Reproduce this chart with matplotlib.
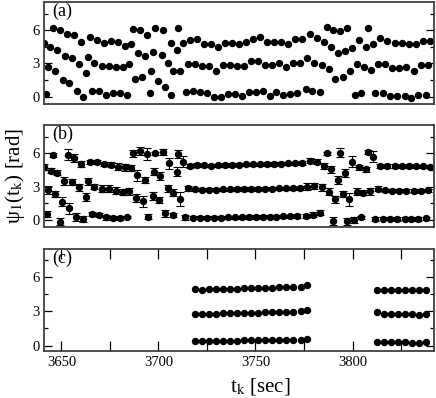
import numpy as np
import matplotlib
matplotlib.use("Agg")
import matplotlib.pyplot as plt
from matplotlib.ticker import MultipleLocator

plt.rcParams['font.family'] = ['Liberation Serif', 'DejaVu Serif']
plt.rcParams['mathtext.fontset'] = 'stix'

# panel (a): phase estimates, three per time step
a_time = [3641.1, 3643.3, 3642.1, 3645.5, 3644.2, 3646.7, 3649.3, 3647.9, 3650.7,
          3652.7, 3651.9, 3654.1, 3656.5, 3655.5, 3657.9, 3660.3, 3659.2, 3661.3,
          3664.7, 3663.9, 3662.7, 3665.6, 3668.2, 3666.8, 3669.5, 3671.9, 3670.7, 3673.0,
          3675.5, 3674.3, 3676.4, 3679.3, 3678.1, 3680.2, 3682.9, 3681.5, 3683.6,
          3685.8, 3684.8, 3687.0, 3689.2, 3687.9, 3690.4, 3693.0, 3691.6,
          3694.2, 3696.4, 3695.6, 3698.3, 3697.3, 3699.8, 3702.4, 3701.6, 3703.6,
          3706.2, 3705.0, 3706.7, 3710.1, 3709.3, 3707.6, 3712.7, 3711.3, 3714.1,
          3716.5, 3715.3, 3717.7, 3720.1, 3718.9, 3721.3, 3723.7, 3722.5, 3724.9,
          3727.3, 3726.1, 3728.5, 3730.9, 3729.8, 3732.1, 3734.5, 3733.3, 3735.7,
          3738.1, 3737.0, 3739.3, 3741.7, 3740.6, 3742.9, 3745.3, 3744.2, 3746.6,
          3748.9, 3747.7, 3750.2, 3752.5, 3751.4, 3753.8, 3756.1, 3755.0, 3757.3,
          3759.6, 3758.6, 3760.7, 3763.2, 3762.0, 3764.4, 3766.8, 3765.8, 3767.9,
          3770.4, 3769.2, 3771.6, 3774.0, 3772.7, 3775.8, 3778.2, 3776.5, 3779.2,
          3781.6, 3780.4, 3783.0, 3785.4, 3784.3, 3786.7, 3789.1, 3787.8,
          3790.2, 3792.6, 3791.2, 3793.6, 3796.3, 3794.9, 3797.3, 3799.7, 3798.7,
          3803.5, 3802.1, 3801.1, 3806.9, 3808.0, 3805.9, 3804.5, 3810.4, 3809.3,
          3814.1, 3813.1, 3811.7, 3817.9, 3816.5, 3815.5, 3821.7, 3820.3, 3819.3,
          3825.4, 3824.1, 3823.0, 3828.9, 3827.8, 3826.8, 3832.6, 3831.6, 3830.2,
          3836.1, 3835.4, 3834.0, 3839.8, 3838.8, 3837.8]
a_psi = [4.86, 2.64, 0.24, 6.21, 4.50, 2.28, 6.00, 4.26, 1.50,
         5.70, 3.66, 1.20, 5.58, 3.48, 0.54, 4.98, 2.94, 0.00,
         5.40, 3.60, 2.16, 0.54, 5.16, 3.06, 0.54, 4.86, 2.76, 0.12,
         5.04, 2.76, 0.30, 4.95, 2.70, 0.30, 4.59, 2.64, 0.12,
         4.80, 2.94, 6.15, 3.90, 1.62, 6.06, 3.66, 1.74,
         5.58, 2.34, 0.30, 6.18, 4.05, 1.44, 6.06, 3.75, 0.84,
         4.86, 3.00, 0.12, 6.21, 4.20, 2.34, 4.86, 2.34, 0.42,
         5.16, 2.91, 0.54, 5.19, 2.91, 0.42, 4.80, 2.76, 0.30,
         4.80, 2.76, -0.06, 4.50, 2.34, -0.06, 4.86, 2.85, 0.21,
         4.86, 2.85, 0.21, 4.80, 2.76, 0.06, 4.95, 2.76, 0.45,
         5.25, 3.18, 0.45, 5.40, 3.18, 0.48, 4.92, 2.85, 0.06,
         4.92, 2.85, 0.42, 4.92, 3.00, 0.18, 4.80, 2.70, 0.21,
         5.22, 3.06, 0.30, 5.22, 3.00, 0.66, 5.64, 3.45, 0.54,
         5.28, 3.06, 0.42, 4.95, 2.85, 6.30, 4.50, 2.46,
         6.06, 3.90, 1.62, 5.94, 4.08, 1.74, 6.24, 4.44, 2.34,
         5.10, 2.94, 0.12, 4.50, 6.24, 2.64, 0.30, 4.80, 2.40,
         5.34, 2.94, 0.30, 5.04, 2.94, 0.36, 4.86, 2.58, 0.06,
         4.86, 2.58, 0.06, 4.74, 2.70, 0.06, 4.74, 2.34, -0.12,
         5.04, 2.85, 0.18, 5.04, 2.85, 0.18]

# panel (b): phases with error bars
b_time = [3641.1, 3643.3, 3642.5, 3645.5, 3644.5, 3646.7, 3647.9, 3650.2, 3649.3,
          3653.6, 3651.4, 3654.1, 3656.5, 3655.5, 3657.5, 3660.3, 3659.2, 3661.3,
          3662.7, 3663.9, 3664.7, 3665.6, 3667.0, 3668.5, 3669.5, 3670.9, 3671.9,
          3672.9, 3674.3, 3675.7, 3676.4, 3678.1, 3679.3, 3680.2, 3681.5, 3682.9,
          3683.6, 3684.9, 3686.0, 3686.7, 3689.1, 3688.4, 3690.4, 3693.0, 3691.8,
          3694.2, 3694.7, 3698.1, 3697.6, 3697.0, 3702.4, 3701.0, 3700.4, 3703.4,
          3705.5, 3705.0, 3707.6, 3707.6, 3710.1, 3709.3, 3712.7, 3711.3,
          # smooth stretch
          3716.5, 3720.1, 3723.7, 3727.3, 3730.9, 3734.5, 3738.1, 3741.7, 3745.3,
          3748.9, 3752.5, 3756.1, 3759.6, 3763.2, 3766.8, 3770.4, 3774.0,
          3715.3, 3718.9, 3722.5, 3726.1, 3729.8, 3733.3, 3737.0, 3740.6, 3744.2,
          3747.7, 3751.4, 3755.0, 3758.6, 3762.0, 3765.8, 3769.2, 3772.7,
          3713.6, 3717.7, 3721.3, 3724.9, 3728.5, 3732.1, 3735.7, 3739.3, 3742.9,
          3746.6, 3750.2, 3753.8, 3757.3, 3760.7, 3764.4, 3767.9, 3771.6,
          # noisy stretch
          3778.2, 3781.6, 3785.5, 3786.7, 3789.0, 3793.6, 3792.4, 3796.0, 3799.7,
          3803.5, 3806.9, 3807.8, 3810.4,
          3776.5, 3780.4, 3784.3, 3788.1, 3791.2, 3795.0, 3798.4, 3802.1, 3805.6, 3809.0,
          3775.8, 3779.5, 3783.0, 3789.8, 3797.0, 3801.0, 3804.5,
          # smooth end
          3814.1, 3817.9, 3821.7, 3825.4, 3828.9, 3832.6, 3836.1, 3839.8,
          3813.1, 3816.5, 3820.3, 3824.1, 3827.8, 3831.6, 3835.4, 3838.8,
          3811.7, 3815.5, 3819.3, 3823.0, 3826.8, 3830.2, 3834.0, 3837.8]
b_psi = [4.77, 2.70, 0.54, 5.86, 4.44, 2.34, 4.26, 1.65, -0.15,
         5.86, 3.48, 1.05, 5.58, 3.42, 0.30, 5.04, 2.94, 0.09,
         2.04, 3.48, 5.22, 0.54, 3.00, 5.22, 0.45, 2.82, 5.04,
         0.24, 2.82, 4.98, 0.18, 2.64, 4.80, 0.18, 2.52, 4.74,
         0.24, 2.58, 4.68, 6.00, 4.02, 1.98, 6.24, 3.60, 1.68,
         5.94, 0.30, 6.00, 4.35, 2.16, 6.12, 3.96, 1.80, 0.60,
         5.10, 2.85, 2.46, 0.45, 5.94, 4.35, 5.25, 1.90,
         4.86, 4.95, 4.92, 4.90, 4.92, 4.95, 4.95, 4.98, 5.00,
         5.00, 5.02, 5.05, 5.05, 5.08, 5.10, 5.10, 5.12,
         2.85, 2.76, 2.74, 2.74, 2.74, 2.76, 2.76, 2.78, 2.80,
         2.80, 2.80, 2.82, 2.82, 2.85, 2.85, 2.85, 2.88,
         0.24, 0.20, 0.20, 0.20, 0.22, 0.22, 0.25, 0.25, 0.25,
         0.28, 0.28, 0.30, 0.30, 0.30, 0.32, 0.32, 0.35,
         5.34, 5.25, 4.86, 6.00, 4.56, 6.06, 3.60, 4.20, 5.25,
         4.74, 4.56, 6.12, 5.70,
         3.00, 3.06, 2.94, 2.55, 1.86, 2.34, 1.86, 2.55, 2.46, 2.58,
         0.36, 0.48, 0.66, -0.06, -0.12, 0.00, 0.24,
         4.86, 4.86, 4.86, 4.84, 4.86, 4.84, 4.82, 4.80,
         2.82, 2.66, 2.64, 2.64, 2.64, 2.62, 2.64, 2.66,
         0.09, 0.12, 0.12, 0.10, 0.12, 0.10, 0.08, 0.15]
b_err = [0.30, 0.35, 0.25, 0.15, 0.20, 0.30, 0.25, 0.40, 0.30,
         0.50, 0.35, 0.50, 0.40, 0.30, 0.35, 0.30, 0.30, 0.25,
         0.35, 0.30, 0.20, 0.20, 0.25, 0.20, 0.20, 0.30, 0.20,
         0.20, 0.30, 0.20, 0.15, 0.30, 0.30, 0.15, 0.30, 0.30,
         0.10, 0.30, 0.30, 0.30, 0.50, 0.35, 0.35, 0.30, 0.50,
         0.50, 0.20, 0.15, 0.30, 0.35, 0.30, 0.35, 0.30, 0.30,
         0.50, 0.30, 0.30, 0.20, 0.35, 0.40, 0.50, 0.60,
         0.20, 0.15, 0.15, 0.15, 0.15, 0.15, 0.15, 0.15, 0.15,
         0.15, 0.15, 0.15, 0.15, 0.15, 0.15, 0.15, 0.15,
         0.20, 0.15, 0.15, 0.15, 0.15, 0.15, 0.15, 0.15, 0.15,
         0.15, 0.15, 0.15, 0.15, 0.15, 0.15, 0.15, 0.15,
         0.20, 0.15, 0.15, 0.15, 0.15, 0.15, 0.15, 0.15, 0.15,
         0.15, 0.15, 0.15, 0.15, 0.15, 0.15, 0.15, 0.15,
         0.25, 0.20, 0.25, 0.15, 0.30, 0.40, 0.35, 0.35, 0.50,
         0.20, 0.20, 0.20, 0.50,
         0.30, 0.25, 0.30, 0.30, 0.30, 0.30, 0.60, 0.30, 0.25, 0.30,
         0.20, 0.20, 0.25, 0.35, 0.30, 0.25, 0.15,
         0.15, 0.15, 0.15, 0.15, 0.15, 0.15, 0.15, 0.15,
         0.20, 0.15, 0.15, 0.15, 0.15, 0.15, 0.15, 0.15,
         0.15, 0.15, 0.15, 0.15, 0.15, 0.15, 0.15, 0.15]

# panel (c): only the synchronised stretches
c_time1 = [3718.7, 3722.3, 3725.9, 3729.6, 3733.2, 3736.8, 3740.5, 3744.1, 3747.7,
           3751.4, 3755.0, 3758.6, 3762.3, 3765.9, 3769.5, 3773.2, 3776.8]
c_top1 = [4.90, 4.88, 4.90, 4.92, 4.95, 4.95, 4.97, 5.00, 5.00,
          5.02, 5.05, 5.05, 5.08, 5.10, 5.12, 5.15, 5.32]
c_mid1 = [2.72, 2.74, 2.75, 2.78, 2.80, 2.80, 2.82, 2.85, 2.85,
          2.88, 2.90, 2.92, 2.92, 2.95, 2.97, 3.00, 3.10]
c_low1 = [0.42, 0.38, 0.38, 0.40, 0.42, 0.42, 0.44, 0.45, 0.45,
          0.47, 0.48, 0.48, 0.50, 0.50, 0.52, 0.52, 0.55]
c_time2 = [3812.6, 3816.2, 3819.9, 3823.5, 3827.1, 3830.8, 3834.4, 3838.0]
c_top2 = [4.85, 4.85, 4.87, 4.87, 4.85, 4.87, 4.85, 4.85]
c_mid2 = [2.95, 2.72, 2.72, 2.74, 2.74, 2.72, 2.70, 2.74]
c_low2 = [0.30, 0.28, 0.28, 0.27, 0.27, 0.25, 0.20, 0.28]

fig = plt.figure(figsize=(4.36, 3.98), dpi=100)
W = 0.8945
ax_a = fig.add_axes([0.1009, 0.7387, W, 0.2563])
ax_b = fig.add_axes([0.1009, 0.4289, W, 0.2571])
ax_c = fig.add_axes([0.1009, 0.1188, W, 0.2548])

ms = 4.3
ax_a.plot(a_time, a_psi, 'o', color='black', ms=ms, mec='black')
ax_b.errorbar(b_time, b_psi, yerr=b_err, fmt='o', color='black', ms=ms,
              elinewidth=0.8, capsize=2.6, capthick=0.8)
for tt, rows in [(c_time1, (c_top1, c_mid1, c_low1)), (c_time2, (c_top2, c_mid2, c_low2))]:
    for r in rows:
        ax_c.plot(tt, r, 'o', color='black', ms=ms)

for ax, lab in [(ax_a, '(a)'), (ax_b, '(b)'), (ax_c, '(c)')]:
    ax.set_xlim(3641, 3842)
    ax.set_ylim(-0.66, 8.55)
    ax.yaxis.set_major_locator(MultipleLocator(3))
    ax.yaxis.set_minor_locator(MultipleLocator(1.5))
    ax.xaxis.set_major_locator(MultipleLocator(50))
    ax.xaxis.set_minor_locator(MultipleLocator(25))
    ax.tick_params(axis='y', which='major', direction='in', length=6, width=0.9,
                   right=True, labelsize=10.5, pad=3)
    ax.tick_params(axis='y', which='minor', direction='in', length=3, width=0.9, right=True)
    for s in ax.spines.values():
        s.set_color('0.25')
        s.set_linewidth(1.3)
    ax.text(0.022, 0.995, lab, transform=ax.transAxes, ha='left', va='top', fontsize=13)

for ax in (ax_a, ax_b):
    ax.tick_params(axis='x', which='both', bottom=False, top=False, labelbottom=False)

ax_c.set_ylim(-0.45, 8.4)
ax_c.tick_params(axis='x', which='major', direction='in', length=7, width=0.9,
                 top=True, labelsize=10.5, pad=4)
ax_c.tick_params(axis='x', which='minor', direction='in', length=7, width=0.9, top=True)
ax_c.set_xlabel(r't$_\mathrm{k}$ [sec]', fontsize=15, labelpad=2)
ax_c.xaxis.set_label_coords(0.554, -0.25)

ax_b.set_ylabel('\u03c8$_\mathrm{1}$(t$_\mathrm{k}$) [rad]', fontsize=15, labelpad=4)

fig.savefig('out.png', dpi=100)
